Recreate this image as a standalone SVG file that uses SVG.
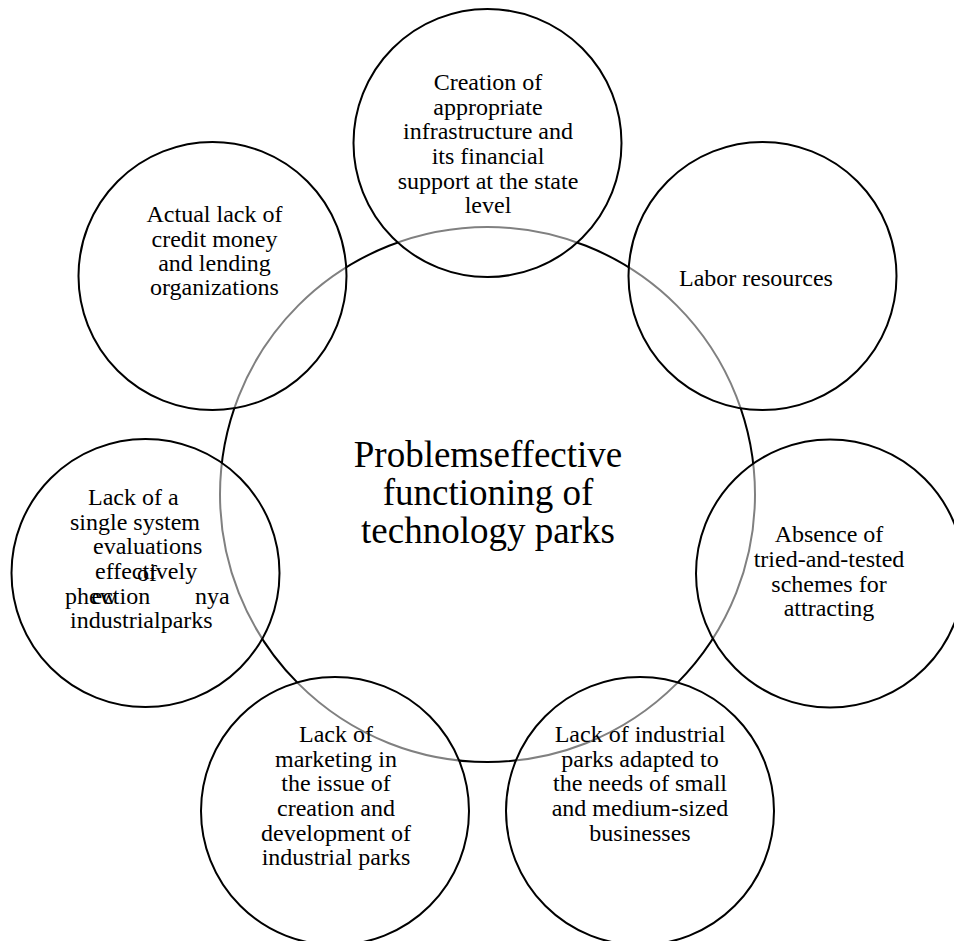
<svg xmlns="http://www.w3.org/2000/svg" width="954" height="941" viewBox="0 0 954 941">
<style>
.hub{fill:#fff;stroke:#000;stroke-width:2}
.sat{fill:#fff;fill-opacity:0.5;stroke:#000;stroke-width:2}
text{font-family:"Liberation Serif","Times New Roman",serif;fill:#000}
.t{font-size:24px;text-anchor:middle}
.l{font-size:24px}
.c{font-size:37px;text-anchor:middle}
</style>
<rect width="954" height="941" fill="#fff"/>
<g id="center">
<circle class="hub" cx="487.5" cy="494.5" r="267.5"/>
<text class="c" x="488" y="467">Problemseffective</text>
<text class="c" x="488" y="505">functioning of</text>
<text class="c" x="488" y="543">technology parks</text>
</g>
<g id="connectors"></g>
<g id="n-top">
<circle class="sat" cx="487.5" cy="143" r="134"/>
<text class="t" x="488" y="90">Creation of</text>
<text class="t" x="488" y="115">appropriate</text>
<text class="t" x="488" y="139">infrastructure and</text>
<text class="t" x="488" y="164">its financial</text>
<text class="t" x="488" y="189">support at the state</text>
<text class="t" x="488" y="213">level</text>
</g>
<g id="n-labor">
<circle class="sat" cx="762.5" cy="276" r="134"/>
<text class="t" x="756" y="286">Labor resources</text>
</g>
<g id="n-absence">
<circle class="sat" cx="830" cy="573.5" r="134"/>
<text class="t" x="829" y="542">Absence of</text>
<text class="t" x="829" y="567">tried-and-tested</text>
<text class="t" x="829" y="592">schemes for</text>
<text class="t" x="829" y="616">attracting</text>
</g>
<g id="n-bottom-right">
<circle class="sat" cx="640" cy="811" r="134"/>
<text class="t" x="640" y="742">Lack of industrial</text>
<text class="t" x="640" y="767">parks adapted to</text>
<text class="t" x="640" y="791">the needs of small</text>
<text class="t" x="640" y="816">and medium-sized</text>
<text class="t" x="640" y="841">businesses</text>
</g>
<g id="n-bottom-left">
<circle class="sat" cx="335" cy="811" r="134"/>
<text class="t" x="336" y="742">Lack of</text>
<text class="t" x="336" y="767">marketing in</text>
<text class="t" x="336" y="791">the issue of</text>
<text class="t" x="336" y="816">creation and</text>
<text class="t" x="336" y="841">development of</text>
<text class="t" x="336" y="865">industrial parks</text>
</g>
<g id="n-left">
<circle class="sat" cx="145.5" cy="573" r="134"/>
<text class="l" x="88" y="505">Lack of a</text>
<text class="l" x="70" y="530">single system</text>
<text class="l" x="93" y="554">evaluations</text>
<text class="l" x="95" y="579">effectively</text>
<text class="l" x="137" y="581">of</text>
<text class="l" x="65" y="604">phew</text>
<text class="l" x="91.5" y="604">ection</text>
<text class="l" x="195" y="604">nya</text>
<text class="l" x="70" y="628">industrialparks</text>
</g>
<g id="n-actual">
<circle class="sat" cx="212.5" cy="276" r="134"/>
<text class="t" x="214.5" y="222">Actual lack of</text>
<text class="t" x="214.5" y="247">credit money</text>
<text class="t" x="214.5" y="271">and lending</text>
<text class="t" x="214.5" y="295">organizations</text>
</g>
</svg>
